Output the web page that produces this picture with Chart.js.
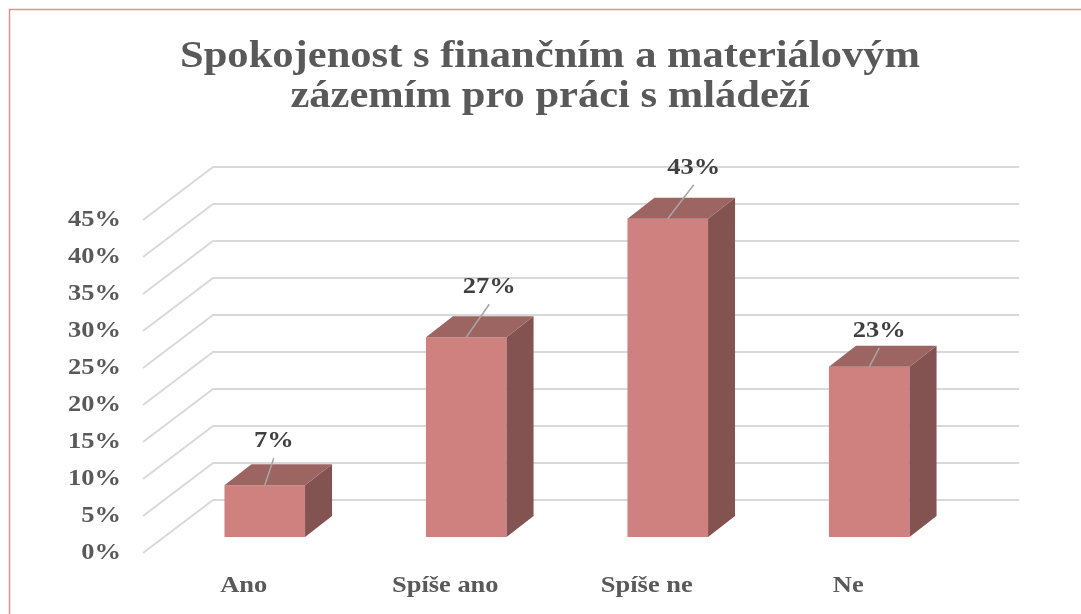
<!DOCTYPE html>
<html>
<head>
<meta charset="utf-8">
<script src="https://cdn.jsdelivr.net/npm/chart.js@4.4.1/dist/chart.umd.min.js"></script>
<style>
  html, body { margin: 0; padding: 0; background: #fff; overflow: hidden; }
  #wrap { width: 1081px; height: 614px; }
</style>
</head>
<body>
<div id="wrap"><canvas id="c"></canvas></div>
<script>
const categories = ['Ano', 'Spíše ano', 'Spíše ne', 'Ne'];
const shares = [7, 27, 43, 23];
const yTicks = [0, 5, 10, 15, 20, 25, 30, 35, 40, 45];
const titleLines = ['Spokojenost s finančním a materiálovým', 'zázemím pro práci s mládeží'];

// ručně posunuté popisky dat (jako v Excelu): [dx, dy] od horní přední hrany sloupce
const labelNudge = [[9, -44], [23, -50], [26, -51], [10, -36]];

const FONT  = '"Liberation Serif", "Times New Roman", serif';
const SX    = 1.15;               // písmo v předloze je vodorovně roztažené
const DEPTH = { x: 27, y: -21 };  // hloubka kvádru
const FRONT = { x: -21, y: 16 };  // přední hrana podlahy vůči rovině sloupců
const BACK  = { x: 49, y: -37 };  // zadní stěna vůči rovině sloupců

const colors = {
  front: '#cf8180',
  top:   '#9d6562',
  side:  '#835352',
  grid:  '#d9d9d9',
  axis:  '#595959',
  label: '#404040',
  leader:'#a6a6a6',
  frame: '#d99594',
};

function wideText(ctx, text, x, y) {
  ctx.save();
  ctx.translate(x, y);
  ctx.scale(SX, 1);
  ctx.fillText(text, 0, 0);
  ctx.restore();
}

// ── 3D efekt: stěny, mřížka, boky a vršky sloupců, popisky ──────────────────
const box3d = {
  id: 'box3d',
  beforeDraw(chart) {
    const ctx = chart.ctx;
    ctx.save();
    ctx.strokeStyle = colors.frame;
    ctx.lineWidth = 1.5;
    ctx.strokeRect(9.5, 9.5, chart.width + 50, chart.height + 50);

    // nadpis
    ctx.fillStyle = colors.axis;
    ctx.font = 'bold 37px ' + FONT;
    ctx.textAlign = 'center';
    ctx.textBaseline = 'alphabetic';
    titleLines.forEach((t, i) => wideText(ctx, t, 550, 67 + i * 40));
    ctx.restore();
  },
  beforeDatasetsDraw(chart) {
    const { ctx, chartArea: a, scales: { x, y } } = chart;
    ctx.save();
    ctx.strokeStyle = colors.grid;
    ctx.lineWidth = 2;
    ctx.beginPath();
    for (const v of yTicks) {
      const py = y.getPixelForValue(v);
      ctx.moveTo(a.left + FRONT.x, py + FRONT.y);
      ctx.lineTo(a.left + BACK.x, py + BACK.y);
      ctx.lineTo(a.right + BACK.x, py + BACK.y);
    }
    ctx.stroke();

    ctx.fillStyle = colors.axis;
    ctx.font = 'bold 23px ' + FONT;
    ctx.textAlign = 'right';
    ctx.textBaseline = 'middle';
    for (const v of yTicks) {
      wideText(ctx, v + '%', a.left + FRONT.x - 22, y.getPixelForValue(v) + FRONT.y);
    }

    ctx.textAlign = 'center';
    categories.forEach((c, i) => {
      wideText(ctx, c, x.getPixelForValue(i) + FRONT.x, y.getPixelForValue(0) + FRONT.y + 33);
    });
    ctx.restore();
  },
  afterDatasetsDraw(chart) {
    const ctx = chart.ctx;
    const meta = chart.getDatasetMeta(0);
    ctx.save();
    meta.data.forEach((bar, i) => {
      const { x, y, base, width } = bar.getProps(['x', 'y', 'base', 'width'], true);
      const l = x - width / 2, r = x + width / 2;

      ctx.fillStyle = colors.side;
      ctx.beginPath();
      ctx.moveTo(r, y);
      ctx.lineTo(r + DEPTH.x, y + DEPTH.y);
      ctx.lineTo(r + DEPTH.x, base + DEPTH.y);
      ctx.lineTo(r, base);
      ctx.closePath();
      ctx.fill();

      ctx.fillStyle = colors.top;
      ctx.beginPath();
      ctx.moveTo(l, y);
      ctx.lineTo(r, y);
      ctx.lineTo(r + DEPTH.x, y + DEPTH.y);
      ctx.lineTo(l + DEPTH.x, y + DEPTH.y);
      ctx.closePath();
      ctx.fill();

      // vodicí čára + popisek
      const [dx, dy] = labelNudge[i];
      ctx.strokeStyle = colors.leader;
      ctx.lineWidth = 1.5;
      ctx.beginPath();
      ctx.moveTo(x, y);
      ctx.lineTo(x + dx, y + dy + 17);
      ctx.stroke();

      ctx.fillStyle = colors.label;
      ctx.font = 'bold 23px ' + FONT;
      ctx.textAlign = 'center';
      ctx.textBaseline = 'middle';
      wideText(ctx, shares[i] + '%', x + dx, y + dy);
    });
    ctx.restore();
  },
};

const hidden = { display: false };

new Chart(document.getElementById('c'), {
  type: 'bar',
  data: {
    labels: categories,
    datasets: [{
      data: shares,
      backgroundColor: colors.front,
      borderWidth: 0,
      barPercentage: 0.4,
      categoryPercentage: 1.0,
    }],
  },
  options: {
    animation: false,
    responsive: true,
    maintainAspectRatio: false,
    layout: { padding: { left: 19, top: 204, right: 0, bottom: 0 } },
    plugins: {
      legend: hidden,
      tooltip: { enabled: false },
      title: hidden,
    },
    scales: {
      x: {
        ticks: hidden, grid: hidden, border: hidden,
        afterFit(s) { s.height = 77; },
      },
      y: {
        min: 0, max: 45,
        ticks: hidden, grid: hidden, border: hidden,
        afterFit(s) { s.width = 145; },
      },
      yR: {
        type: 'linear', position: 'right',
        ticks: hidden, grid: hidden, border: hidden,
        afterFit(s) { s.width = 111; },
      },
    },
  },
  plugins: [box3d],
});
</script>
</body>
</html>
